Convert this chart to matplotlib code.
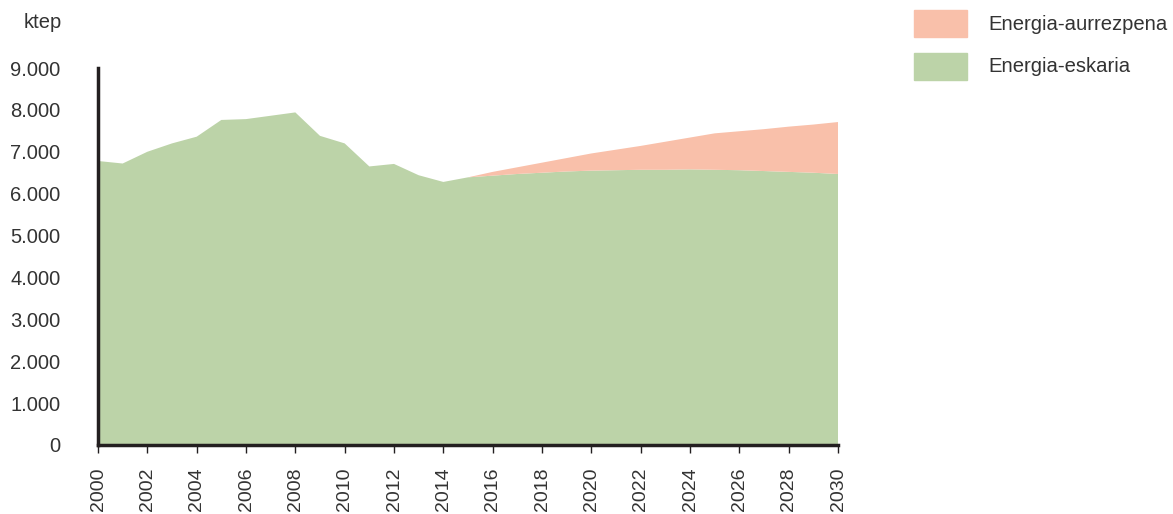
import matplotlib.pyplot as plt
from matplotlib.patches import Rectangle
from matplotlib.ticker import FuncFormatter

plt.rcParams['font.family'] = ['Liberation Sans', 'DejaVu Sans']

years = list(range(2000, 2031))
# Energia-eskaria (ktep)
demand = [6780, 6720, 7000, 7200, 7360, 7760, 7780, 7860, 7940, 7380,
          7200, 6650, 6710, 6440, 6280, 6390, 6430, 6470, 6500, 6530,
          6550, 6560, 6570, 6570, 6580, 6570, 6560, 6540, 6520, 6500, 6470]
# demand + savings, read from the top edge of the orange band
total = [6780, 6720, 7000, 7200, 7360, 7760, 7780, 7860, 7940, 7380,
         7200, 6650, 6710, 6440, 6280, 6390, 6520, 6630, 6740, 6850,
         6960, 7050, 7140, 7240, 7340, 7440, 7490, 7540, 7600, 7650, 7710]
savings = [t - d for t, d in zip(total, demand)]
labels = ['Energia-aurrezpena', 'Energia-eskaria']

green = '#bcd3a8'
orange = '#f9c0aa'
txt = '#333333'
W, H = 1173, 514

fig = plt.figure(figsize=(W/100, H/100), dpi=100)
ax = fig.add_axes([98/W, 1-445/H, (838-98)/W, (445-68)/H])

ax.stackplot(years, demand, savings, colors=[green, orange], linewidth=0)

ax.set_xlim(2000, 2030)
ax.set_ylim(0, 9000)
ax.set_xticks(range(2000, 2031, 2))
ax.set_yticks(range(0, 9001, 1000))
ax.yaxis.set_major_formatter(FuncFormatter(lambda v, p: f'{int(v):,}'.replace(',', '.')))
ax.tick_params(axis='x', rotation=90, length=6, width=1, color='#231f20',
               labelsize=14, labelcolor=txt, pad=10)
ax.tick_params(axis='y', length=0, labelsize=14.5, labelcolor=txt, pad=27)

for s in ['top', 'right']:
    ax.spines[s].set_visible(False)
for s in ['left', 'bottom']:
    ax.spines[s].set_color('#231f20')
    ax.spines[s].set_linewidth(2.5)

fig.text(62/W, 1-22/H, 'ktep', ha='right', va='center', fontsize=14.5, color=txt)

# legend drawn by hand for exact placement
for i, (lab, col) in enumerate(zip(labels, [orange, green])):
    y0 = 10 + i*43
    fig.patches.append(Rectangle((914/W, 1-(y0+27)/H), 53/W, 27/H,
                                 transform=fig.transFigure, color=col))
    fig.text(988/W, 1-(y0+14)/H, lab, ha='left', va='center',
             fontsize=14.6, color=txt)

fig.savefig('out.png', dpi=100)
